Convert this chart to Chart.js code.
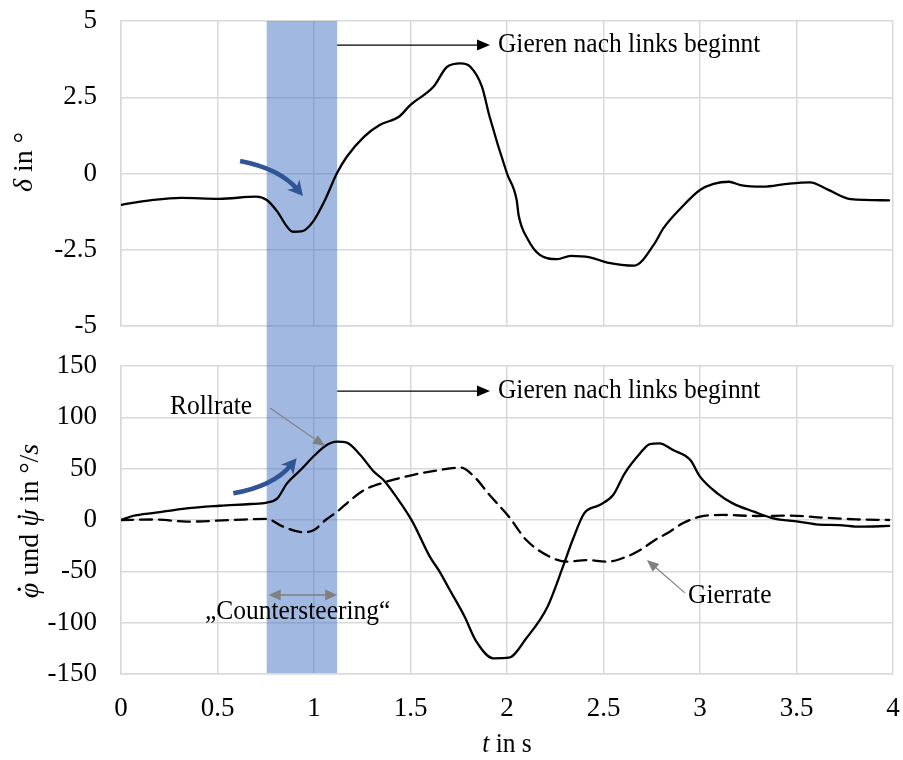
<!DOCTYPE html>
<html>
<head>
<meta charset="utf-8">
<script src="https://cdn.jsdelivr.net/npm/chart.js@4.4.1/dist/chart.umd.min.js"></script>
<style>
  html, body { margin: 0; padding: 0; background: #fff; }
  #wrap { position: relative; width: 903px; height: 760px; }
  canvas { position: absolute; left: 0; }
  #top { top: 0; }
  #bottom { top: 346px; }
</style>
</head>
<body>
<div id="wrap">
  <canvas id="top" width="903" height="346"></canvas>
  <canvas id="bottom" width="903" height="414"></canvas>
</div>
<script>
// ---- Messdaten ----
const timeTicks = [0, 0.5, 1, 1.5, 2, 2.5, 3, 3.5, 4];
const deltaTicks = [-5, -2.5, 0, 2.5, 5];
const rateTicks = [-150, -100, -50, 0, 50, 100, 150];

// Lenkwinkel delta
const deltaT = [0, 0.06, 0.15, 0.31, 0.51, 0.70, 0.755, 0.81, 0.86, 0.89, 0.94, 0.995, 1.057, 1.118, 1.17, 1.26, 1.34, 1.44, 1.50, 1.62, 1.69, 1.76, 1.81, 1.87, 1.91, 2.0, 2.05, 2.06, 2.11, 2.17, 2.26, 2.33, 2.43, 2.52, 2.66, 2.76, 2.81, 2.90, 3.0, 3.07, 3.15, 3.21, 3.33, 3.45, 3.57, 3.66, 3.78, 3.98];
const deltaVals = [-1.03, -0.96, -0.88, -0.80, -0.83, -0.76, -0.87, -1.25, -1.74, -1.91, -1.89, -1.58, -0.87, 0.0, 0.55, 1.21, 1.59, 1.86, 2.25, 2.85, 3.50, 3.61, 3.50, 2.85, 1.86, 0.0, -0.87, -1.36, -2.18, -2.67, -2.81, -2.70, -2.75, -2.92, -3.02, -2.34, -1.80, -1.14, -0.54, -0.34, -0.27, -0.38, -0.43, -0.34, -0.29, -0.52, -0.84, -0.88];

// Rollrate
const rollT = [0, 0.06, 0.18, 0.34, 0.51, 0.67, 0.755, 0.81, 0.86, 0.93, 1.005, 1.066, 1.118, 1.17, 1.24, 1.31, 1.36, 1.45, 1.51, 1.60, 1.65, 1.70, 1.78, 1.84, 1.93, 2.01, 2.10, 2.21, 2.29, 2.34, 2.40, 2.48, 2.55, 2.61, 2.69, 2.74, 2.79, 2.86, 2.95, 3.0, 3.09, 3.17, 3.28, 3.38, 3.51, 3.60, 3.72, 3.83, 3.98];
const rollVals = [0, 3.9, 7.1, 11.4, 13.9, 15.6, 16.9, 21.1, 35.7, 48.7, 63.3, 73.0, 76.3, 75.3, 63.3, 47.1, 39.0, 16.2, -1.6, -35.7, -50, -67, -94, -118, -134.7, -134.1, -115.2, -84.4, -45.5, -19.5, 6.5, 14.6, 24.3, 45.5, 65.0, 74.0, 74.7, 68.2, 58.4, 42.2, 26.0, 16.2, 8.1, 1.6, -1.6, -4.2, -4.9, -6.5, -5.8];

// Gierrate
const yawT = [0, 0.18, 0.34, 0.58, 0.755, 0.84, 0.945, 1.0, 1.06, 1.12, 1.19, 1.26, 1.36, 1.51, 1.65, 1.76, 1.83, 1.91, 2.01, 2.10, 2.22, 2.31, 2.41, 2.52, 2.62, 2.69, 2.78, 2.83, 2.91, 3.0, 3.12, 3.29, 3.47, 3.64, 3.81, 3.98];
const yawVals = [0, 0.5, -1.6, 0, 1.0, -6.5, -12.0, -9.7, 0, 8.1, 19.5, 29.2, 36.4, 43.8, 48.7, 51.0, 42.2, 24.3, 3.2, -19.5, -35.7, -40.6, -39.0, -40.6, -35.7, -29.2, -17.9, -13.0, -3.2, 3.2, 4.9, 3.9, 4.2, 2.3, 0.6, 0];

// Zeitfenster Countersteering
const counterBand = [0.755, 1.12];

const FONT = '"Liberation Serif", "Times New Roman", serif';
const GRID = '#d9d9d9';
const BLUE = '#2f5597';
const GREY = '#808080';
const SQUEEZE = 0.91;   // Beschriftung leicht schmal gesetzt

const pts = (ts, vs) => ts.map((t, i) => ({ x: t, y: vs[i] }));

// ---- Zeichenhilfen ----
// Text aus Stuecken (kursiv / normal), optional mit Punkt ueber dem Zeichen
function runs(ctx, parts, x, y, size, angle, sx) {
  ctx.save();
  ctx.translate(x, y);
  ctx.rotate(angle || 0);
  ctx.scale(sx || 1, 1);
  ctx.textBaseline = 'middle';
  ctx.textAlign = 'left';
  ctx.fillStyle = '#000';
  const f = p => (p.italic ? 'italic ' : '') + size + 'px ' + FONT;
  let w = 0;
  parts.forEach(p => { ctx.font = f(p); w += ctx.measureText(p.text).width; });
  let cx = -w / 2;
  parts.forEach(p => {
    ctx.font = f(p);
    const pw = ctx.measureText(p.text).width;
    ctx.fillText(p.text, cx, 0);
    if (p.dot) {
      ctx.beginPath();
      ctx.arc(cx + pw * 0.58, -size * 0.42, size * 0.06, 0, Math.PI * 2);
      ctx.fill();
    }
    cx += pw;
  });
  ctx.restore();
}

function label(ctx, text, p, size) {
  ctx.save();
  ctx.translate(p.x, p.y);
  ctx.scale(SQUEEZE, 1);
  ctx.font = size + 'px ' + FONT;
  ctx.fillStyle = '#000';
  ctx.textAlign = 'left';
  ctx.textBaseline = 'middle';
  ctx.fillText(text, 0, 0);
  ctx.restore();
}

function head(ctx, tip, ang, len, half, color) {
  ctx.save();
  ctx.translate(tip.x, tip.y);
  ctx.rotate(ang);
  ctx.beginPath();
  ctx.moveTo(0, 0);
  ctx.lineTo(-len, -half);
  ctx.lineTo(-len, half);
  ctx.closePath();
  ctx.fillStyle = color;
  ctx.fill();
  ctx.restore();
}

function arrow(ctx, a, b, color, width, len, half, both) {
  const ang = Math.atan2(b.y - a.y, b.x - a.x);
  const dx = Math.cos(ang) * len * 0.8, dy = Math.sin(ang) * len * 0.8;
  const s = both ? { x: a.x + dx, y: a.y + dy } : a;
  ctx.save();
  ctx.strokeStyle = color;
  ctx.lineWidth = width;
  ctx.beginPath();
  ctx.moveTo(s.x, s.y);
  ctx.lineTo(b.x - dx, b.y - dy);
  ctx.stroke();
  ctx.restore();
  head(ctx, b, ang, len, half, color);
  if (both) head(ctx, a, ang + Math.PI, len, half, color);
}

function bentArrow(ctx, a, c, b) {
  const ang = Math.atan2(b.y - c.y, b.x - c.x);
  const len = 15, half = 8;
  const end = { x: b.x - Math.cos(ang) * len * 0.6, y: b.y - Math.sin(ang) * len * 0.6 };
  ctx.save();
  ctx.strokeStyle = BLUE;
  ctx.lineWidth = 4.5;
  ctx.beginPath();
  ctx.moveTo(a.x, a.y);
  ctx.quadraticCurveTo(c.x, c.y, end.x, end.y);
  ctx.stroke();
  ctx.translate(b.x, b.y);
  ctx.rotate(ang);
  ctx.beginPath();
  ctx.moveTo(0, 0);
  ctx.lineTo(-len, -half);
  ctx.lineTo(-len * 0.7, 0);
  ctx.lineTo(-len, half);
  ctx.closePath();
  ctx.fillStyle = BLUE;
  ctx.fill();
  ctx.restore();
}

const at = (chart, t, v) => ({ x: chart.scales.x.getPixelForValue(t), y: chart.scales.y.getPixelForValue(v) });

// blaues Band laeuft durch beide Diagramme durch
const band = {
  id: 'band',
  beforeDatasetsDraw(chart) {
    const { ctx, chartArea: a, scales: { x } } = chart;
    const x0 = x.getPixelForValue(counterBand[0]);
    const x1 = x.getPixelForValue(counterBand[1]);
    const lower = chart.canvas.id === 'bottom';
    const top = lower ? 0 : a.top;
    const bottom = lower ? a.bottom - 1 : chart.height;
    ctx.save();
    ctx.fillStyle = 'rgba(68, 114, 196, 0.5)';
    ctx.fillRect(x0, top, x1 - x0, bottom - top);
    ctx.restore();
  }
};

const topNotes = {
  id: 'topNotes',
  afterDatasetsDraw(chart) {
    const ctx = chart.ctx;
    arrow(ctx, at(chart, 1.12, 4.21), at(chart, 1.912, 4.21), '#000', 1.2, 13, 5.5);
    label(ctx, 'Gieren nach links beginnt', at(chart, 1.953, 4.21), 28);
    bentArrow(ctx, at(chart, 0.617, 0.41), at(chart, 0.822, 0.16), at(chart, 0.943, -0.74));
    runs(ctx, [{ text: 'δ', italic: true }, { text: ' in °' }], 25, 162, 28, -Math.PI / 2);
  }
};

const bottomNotes = {
  id: 'bottomNotes',
  afterDatasetsDraw(chart) {
    const ctx = chart.ctx;
    const a = chart.chartArea;
    arrow(ctx, at(chart, 1.12, 125.6), at(chart, 1.912, 125.6), '#000', 1.2, 13, 5.5);
    label(ctx, 'Gieren nach links beginnt', at(chart, 1.953, 125.6), 28);
    label(ctx, 'Rollrate', at(chart, 0.254, 110), 28);
    arrow(ctx, at(chart, 0.772, 109), at(chart, 1.057, 72), GREY, 1.2, 12, 5);
    label(ctx, 'Gierrate', at(chart, 2.938, -74), 28);
    arrow(ctx, at(chart, 2.922, -71), at(chart, 2.725, -39), GREY, 1.2, 12, 5);
    arrow(ctx, at(chart, 0.765, -73), at(chart, 1.12, -73), GREY, 1.5, 12, 5.5, true);
    label(ctx, '\u201eCountersteering\u201c', at(chart, 0.435, -89.6), 28);
    bentArrow(ctx, at(chart, 0.582, 26), at(chart, 0.79, 33), at(chart, 0.91, 60.1));
    runs(ctx, [{ text: 'φ', italic: true, dot: true }, { text: ' und ' }, { text: 'ψ', italic: true, dot: true },
               { text: ' in °/' }, { text: 's', italic: true }], 31, 175, 28, -Math.PI / 2);
    runs(ctx, [{ text: 't', italic: true }, { text: ' in s' }], (a.left + a.right) / 2, 399, 28, 0, SQUEEZE);
  }
};

function xScale(showTicks) {
  return {
    type: 'linear',
    min: 0,
    max: 4,
    afterBuildTicks: s => { s.ticks = timeTicks.map(v => ({ value: v })); },
    ticks: { display: showTicks, color: '#000', font: { family: FONT, size: 27 }, padding: 19, maxRotation: 0,
             callback: v => String(v) },
    grid: { color: GRID, lineWidth: 1.5, drawTicks: false },
    border: { color: GRID, width: 1.5 },
    afterFit: s => { s.height = showTicks ? 86 : 0; s.paddingLeft = 0; s.paddingRight = 0; }
  };
}

function yScale(min, max, tickList) {
  return {
    min: min,
    max: max,
    afterBuildTicks: s => { s.ticks = tickList.map(v => ({ value: v })); },
    ticks: { color: '#000', font: { family: FONT, size: 27 }, padding: 24, callback: v => String(v) },
    grid: { color: GRID, lineWidth: 1.5, drawTicks: false },
    border: { color: GRID, width: 1.5 },
    afterFit: s => { s.width = 121; s.paddingTop = 0; s.paddingBottom = 0; }
  };
}

const common = {
  responsive: false,
  animation: false,
  events: [],
  elements: { point: { radius: 0 }, line: { cubicInterpolationMode: 'monotone', borderCapStyle: 'round', borderJoinStyle: 'round' } },
  plugins: { legend: { display: false }, tooltip: { enabled: false } }
};

new Chart(document.getElementById('top'), {
  type: 'line',
  data: {
    datasets: [{ data: pts(deltaT, deltaVals), borderColor: '#000', borderWidth: 2.3 }]
  },
  options: {
    ...common,
    layout: { padding: { top: 21, right: 10, bottom: 20, left: 0 } },
    scales: { x: xScale(false), y: yScale(-5, 5, deltaTicks) }
  },
  plugins: [band, topNotes]
});

new Chart(document.getElementById('bottom'), {
  type: 'line',
  data: {
    datasets: [
      { data: pts(rollT, rollVals), borderColor: '#000', borderWidth: 2.3 },
      { data: pts(yawT, yawVals), borderColor: '#000', borderWidth: 2.3, borderDash: [12, 7] }
    ]
  },
  options: {
    ...common,
    layout: { padding: { top: 20, right: 10, bottom: 0, left: 0 } },
    scales: { x: xScale(true), y: yScale(-150, 150, rateTicks) }
  },
  plugins: [band, bottomNotes]
});
</script>
</body>
</html>
